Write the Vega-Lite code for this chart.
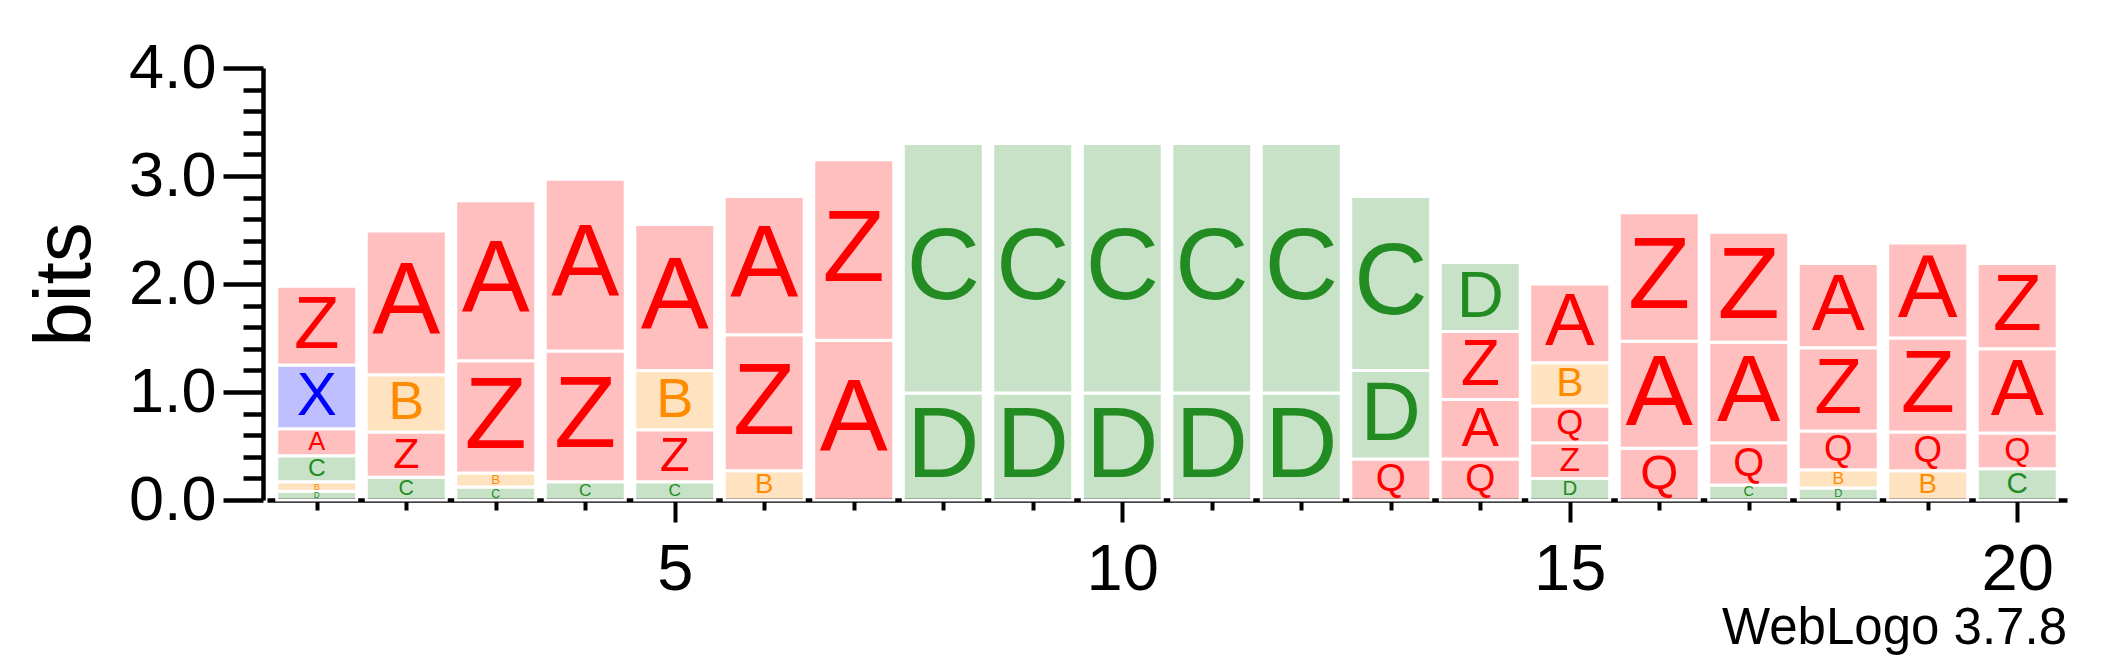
{
  "$schema": "https://vega.github.io/schema/vega-lite/v6.json",
  "autosize": {"type": "none"},
  "padding": {"left": 267, "top": 68, "right": 50, "bottom": 167},
  "width": 1800,
  "height": 432,
  "background": "white",
  "config": {"view": {"stroke": null}, "font": "Liberation Sans"},
  "title": {"text": "WebLogo 3.7.8", "orient": "bottom", "anchor": "end", "fontSize": 51, "font": "Liberation Sans", "fontWeight": "normal", "color": "black", "offset": 2},
  "data": {"values": [
    {"pos": 1, "letter": "D", "bits": 0.08}, {"pos": 1, "letter": "B", "bits": 0.09}, {"pos": 1, "letter": "C", "bits": 0.24}, {"pos": 1, "letter": "A", "bits": 0.25}, {"pos": 1, "letter": "X", "bits": 0.59}, {"pos": 1, "letter": "Z", "bits": 0.73},
    {"pos": 2, "letter": "C", "bits": 0.21}, {"pos": 2, "letter": "Z", "bits": 0.42}, {"pos": 2, "letter": "B", "bits": 0.53}, {"pos": 2, "letter": "A", "bits": 1.33},
    {"pos": 3, "letter": "C", "bits": 0.12}, {"pos": 3, "letter": "B", "bits": 0.13}, {"pos": 3, "letter": "Z", "bits": 1.04}, {"pos": 3, "letter": "A", "bits": 1.48},
    {"pos": 4, "letter": "C", "bits": 0.17}, {"pos": 4, "letter": "Z", "bits": 1.21}, {"pos": 4, "letter": "A", "bits": 1.59},
    {"pos": 5, "letter": "C", "bits": 0.17}, {"pos": 5, "letter": "Z", "bits": 0.48}, {"pos": 5, "letter": "B", "bits": 0.55}, {"pos": 5, "letter": "A", "bits": 1.35},
    {"pos": 6, "letter": "B", "bits": 0.27}, {"pos": 6, "letter": "Z", "bits": 1.26}, {"pos": 6, "letter": "A", "bits": 1.28},
    {"pos": 7, "letter": "A", "bits": 1.48}, {"pos": 7, "letter": "Z", "bits": 1.67},
    {"pos": 8, "letter": "D", "bits": 0.99}, {"pos": 8, "letter": "C", "bits": 2.31},
    {"pos": 9, "letter": "D", "bits": 0.99}, {"pos": 9, "letter": "C", "bits": 2.31},
    {"pos": 10, "letter": "D", "bits": 0.99}, {"pos": 10, "letter": "C", "bits": 2.31},
    {"pos": 11, "letter": "D", "bits": 0.99}, {"pos": 11, "letter": "C", "bits": 2.31},
    {"pos": 12, "letter": "D", "bits": 0.99}, {"pos": 12, "letter": "C", "bits": 2.31},
    {"pos": 13, "letter": "Q", "bits": 0.38}, {"pos": 13, "letter": "D", "bits": 0.82}, {"pos": 13, "letter": "C", "bits": 1.61},
    {"pos": 14, "letter": "Q", "bits": 0.38}, {"pos": 14, "letter": "A", "bits": 0.55}, {"pos": 14, "letter": "Z", "bits": 0.63}, {"pos": 14, "letter": "D", "bits": 0.64},
    {"pos": 15, "letter": "D", "bits": 0.20}, {"pos": 15, "letter": "Z", "bits": 0.33}, {"pos": 15, "letter": "Q", "bits": 0.34}, {"pos": 15, "letter": "B", "bits": 0.40}, {"pos": 15, "letter": "A", "bits": 0.73},
    {"pos": 16, "letter": "Q", "bits": 0.48}, {"pos": 16, "letter": "A", "bits": 0.99}, {"pos": 16, "letter": "Z", "bits": 1.19},
    {"pos": 17, "letter": "C", "bits": 0.14}, {"pos": 17, "letter": "Q", "bits": 0.39}, {"pos": 17, "letter": "A", "bits": 0.93}, {"pos": 17, "letter": "Z", "bits": 1.02},
    {"pos": 18, "letter": "D", "bits": 0.11}, {"pos": 18, "letter": "B", "bits": 0.17}, {"pos": 18, "letter": "Q", "bits": 0.36}, {"pos": 18, "letter": "Z", "bits": 0.77}, {"pos": 18, "letter": "A", "bits": 0.78},
    {"pos": 19, "letter": "B", "bits": 0.27}, {"pos": 19, "letter": "Q", "bits": 0.36}, {"pos": 19, "letter": "Z", "bits": 0.87}, {"pos": 19, "letter": "A", "bits": 0.88},
    {"pos": 20, "letter": "C", "bits": 0.29}, {"pos": 20, "letter": "Q", "bits": 0.33}, {"pos": 20, "letter": "A", "bits": 0.78}, {"pos": 20, "letter": "Z", "bits": 0.79}
  ]},
  "transform": [
    {"stack": "bits", "groupby": ["pos"], "sort": [{"field": "bits", "order": "ascending"}], "as": ["b0", "b1"]},
    {"calculate": "(datum.b0 + datum.b1) / 2", "as": "mid"}
  ],
  "encoding": {
    "x": {
      "field": "pos", "type": "quantitative",
      "scale": {"domain": [0.5, 20.5], "nice": false, "zero": false},
      "axis": {
        "title": null, "grid": false,
        "values": [1,2,3,4,5,6,7,8,9,10,11,12,13,14,15,16,17,18,19,20],
        "labelExpr": "datum.value % 5 === 0 ? datum.value : ''",
        "tickSize": {"condition": {"test": "datum.value % 5 === 0", "value": 22}, "value": 10},
        "tickWidth": 4, "tickColor": "black",
        "domainColor": "black", "domainWidth": 4.5,
        "labelFontSize": 65, "labelFont": "Liberation Sans", "labelColor": "black",
        "labelPadding": 16, "labelFlush": false, "labelOverlap": false
      }
    },
    "color": {
      "field": "letter", "type": "nominal", "legend": null,
      "scale": {"domain": ["A", "B", "C", "D", "Q", "X", "Z"], "range": ["#FF0000", "#FF8C00", "#228B22", "#228B22", "#FF0000", "#0000FF", "#FF0000"]}
    }
  },
  "resolve": {"axis": {"y": "independent"}},
  "layer": [
    {
      "mark": {"type": "bar", "width": 80, "fillOpacity": 0.25, "stroke": "white", "strokeWidth": 3, "strokeOpacity": 1},
      "encoding": {
        "y": {
          "field": "b0", "type": "quantitative",
          "scale": {"domain": [0, 4], "nice": false, "zero": true},
          "axis": {
            "orient": "left",
            "title": "bits", "titleFontSize": 80, "titleFont": "Liberation Sans", "titleFontWeight": "normal", "titleColor": "black", "titlePadding": 22,
            "grid": false, "offset": 4,
            "values": [0, 1, 2, 3, 4],
            "format": ".1f",
            "tickSize": 40,
            "tickWidth": 4.5, "tickColor": "black",
            "domainColor": "black", "domainWidth": 4.5,
            "labelFontSize": 63, "labelFont": "Liberation Sans", "labelColor": "black",
            "labelPadding": 7, "labelFlush": false, "labelOverlap": false
          }
        },
        "y2": {"field": "b1"}
      }
    },
    {
      "mark": {"type": "text", "baseline": "middle", "align": "center", "font": "Liberation Sans"},
      "encoding": {
        "y": {
          "field": "mid", "type": "quantitative",
          "axis": {
            "orient": "left", "title": null, "grid": false, "offset": 4,
            "values": [0.2, 0.4, 0.6, 0.8, 1.2, 1.4, 1.6, 1.8, 2.2, 2.4, 2.6, 2.8, 3.2, 3.4, 3.6, 3.8],
            "labels": false, "domain": false,
            "tickSize": 20, "tickWidth": 4.5, "tickColor": "black"
          }
        },
        "text": {"field": "letter"},
        "size": {"field": "bits", "type": "quantitative", "legend": null, "scale": {"domain": [0, 1.0], "range": [0, 102], "clamp": true}}
      }
    }
  ]
}
